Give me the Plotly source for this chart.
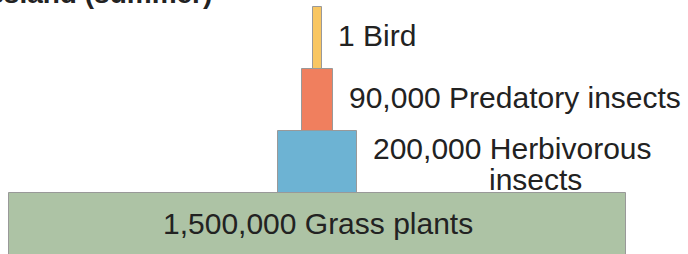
import plotly.graph_objects as go

# Data
levels = ["Grass plants", "Herbivorous insects", "Predatory insects", "Bird"]
counts = [1500000, 200000, 90000, 1]
count_labels = ["1,500,000", "200,000", "90,000", "1"]
# relative drawn widths of the pyramid blocks
bar_widths = [617, 79, 31, 9]
colors = ["#adc3a5", "#6db3d3", "#f07f5e", "#f8c662"]
title_text = "Grassland (summer)"

W, H = 688, 254
level_pos = list(range(len(levels)))

fig = go.Figure()
fig.add_trace(go.Bar(
    y=level_pos,
    x=bar_widths,
    base=[-w / 2 for w in bar_widths],
    orientation="h",
    width=1,
    marker=dict(color=colors, line=dict(color="#999999", width=1)),
    hoverinfo="text",
    hovertext=[f"{c} {l}" for c, l in zip(count_labels, levels)],
))

font = dict(family="Liberation Sans, Arial, sans-serif", size=30, color="#222222")

def px(xp):
    return xp / W

def py(yp):
    return 1 - yp / H

pad = 2.5  # annotation inner padding compensation
annotations = [
    dict(x=0, xref="x", y=py(223.5), yref="paper",
         text=f"{count_labels[0]} {levels[0]}", xanchor="center", yanchor="middle"),
    dict(x=px(373 - pad), xref="paper", y=py(148.3), yref="paper",
         text=f"{count_labels[1]} Herbivorous", xanchor="left", yanchor="middle"),
    dict(x=px(489 - pad), xref="paper", y=py(179.3), yref="paper",
         text="insects", xanchor="left", yanchor="middle"),
    dict(x=px(349 - pad), xref="paper", y=py(97.3), yref="paper",
         text=f"{count_labels[2]} {levels[2]}", xanchor="left", yanchor="middle"),
    dict(x=px(338 - pad), xref="paper", y=py(35.3), yref="paper",
         text=f"{count_labels[3]} {levels[3]}", xanchor="left", yanchor="middle"),
]
for a in annotations:
    a.update(showarrow=False, font=font)
    fig.add_annotation(**a)

# title, cut off at the top edge as in the reference
fig.add_annotation(x=px(211 + pad), xref="paper", y=py(11), yref="paper",
                   text=f"<b>{title_text}</b>", xanchor="right", yanchor="bottom",
                   showarrow=False,
                   font=dict(family="Liberation Sans, Arial, sans-serif", size=28, color="#222222"))

center_px = 317.5
unit = 62.0
fig.update_layout(
    width=W, height=H,
    margin=dict(l=0, r=0, t=0, b=0),
    paper_bgcolor="white", plot_bgcolor="white",
    showlegend=False,
    bargap=0,
    xaxis=dict(range=[-center_px, W - center_px], visible=False, fixedrange=True),
    yaxis=dict(range=[0.5 - (H - 193) / unit, 0.5 + 193 / unit], visible=False, fixedrange=True),
)

fig.write_html(
    "out.html",
    config={"displayModeBar": False},
    post_script="document.body.style.margin='0';document.body.style.overflow='hidden';",
)
